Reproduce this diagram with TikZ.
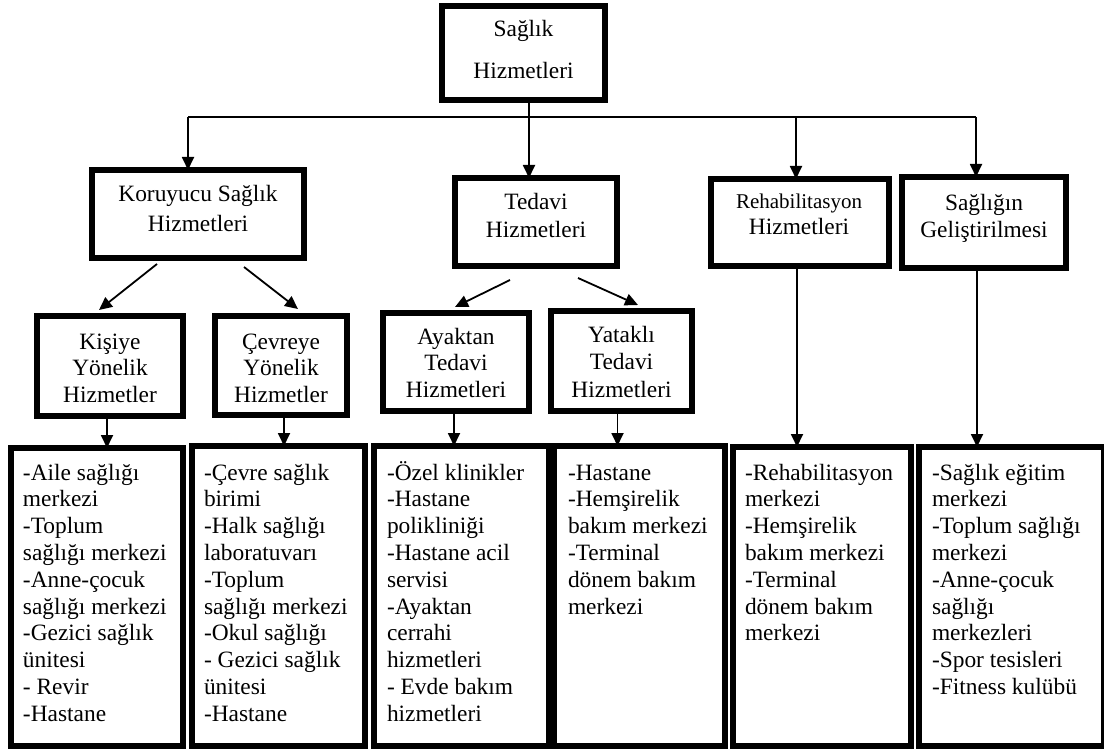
\documentclass[tikz,border=0pt]{standalone}
\usepackage{fontspec}
\setmainfont{Liberation Serif}
\usetikzlibrary{arrows.meta}
\newcommand\myst{\rule{0pt}{23.4pt}}
\begin{document}
\begin{tikzpicture}[x=1pt,y=-1pt,
  bx/.style={draw, rectangle, line width=6pt, inner sep=0pt, outer sep=0pt},
  tx/.style={inner sep=0pt, outer sep=0pt},
  ctx/.style={tx, align=center, anchor=north},
  ltx/.style={tx, align=left, anchor=north west, font=\fontsize{23.4}{26.8}\selectfont},
  ln/.style={line width=1.8pt},
  arr/.style={line width=1.8pt, -{Triangle[length=13pt,width=12pt]}}]
\useasboundingbox (0,0) rectangle (1104,749);
\fill[white] (0,0) rectangle (1104,749);

% level 1
\node[bx, minimum width=163pt, minimum height=94pt] (top) at (523.5,53) {};
\node[ctx, font=\fontsize{23.4}{42}\selectfont] (ttop) at (523.5,13.6) {\myst Sağlık\\Hizmetleri};

% level 2
\node[bx, minimum width=212pt, minimum height=88pt] (koru) at (198,214) {};
\node[ctx, font=\fontsize{23.4}{29}\selectfont] (tkoru) at (198,178.6) {\myst Koruyucu Sağlık\\Hizmetleri};
\node[bx, minimum width=162pt, minimum height=88pt] (ted) at (536,222) {};
\node[ctx, font=\fontsize{23.4}{28}\selectfont] (tted) at (536,185.6) {\myst Tedavi\\Hizmetleri};
\node[bx, minimum width=178pt, minimum height=87pt] (reh) at (800,222.5) {};
\node[ctx, font=\fontsize{23.4}{27}\selectfont] (treh) at (799,184.6) {\myst{\fontsize{21}{27}\selectfont Rehabilitasyon}\\Hizmetleri};
\node[bx, minimum width=164pt, minimum height=91pt] (sag) at (984,222.5) {};
\node[ctx, font=\fontsize{23.4}{27}\selectfont] (tsag) at (984,186.6) {\myst Sağlığın\\Geliştirilmesi};

% level 3
\node[bx, minimum width=146pt, minimum height=100pt] (kisi) at (110,366) {};
\node[ctx, font=\fontsize{23.4}{26.5}\selectfont] (tkisi) at (110,325.6) {\myst Kişiye\\Yönelik\\Hizmetler};
\node[bx, minimum width=132pt, minimum height=99pt] (cev) at (281,365.5) {};
\node[ctx, font=\fontsize{23.4}{26.5}\selectfont] (tcev) at (281,325.6) {\myst Çevreye\\Yönelik\\Hizmetler};
\node[bx, minimum width=146pt, minimum height=98pt] (ayak) at (456,362) {};
\node[ctx, font=\fontsize{23.4}{26.5}\selectfont] (tayak) at (456,320.6) {\myst Ayaktan\\Tedavi\\Hizmetleri};
\node[bx, minimum width=141pt, minimum height=100pt] (yat) at (621.5,361) {};
\node[ctx, font=\fontsize{23.4}{27.5}\selectfont] (tyat) at (621.5,318.6) {\myst Yataklı\\Tedavi\\Hizmetleri};

% level 4
\node[bx, minimum width=172pt, minimum height=298pt] (b1) at (97,597) {};
\node[bx, minimum width=173pt, minimum height=300pt] (b2) at (278.5,596) {};
\node[bx, minimum width=175pt, minimum height=300pt] (b3) at (461.5,596) {};
\node[bx, minimum width=171pt, minimum height=300pt] (b4) at (639.5,596) {};
\node[bx, minimum width=178pt, minimum height=299pt] (b5) at (822,596.5) {};
\node[bx, minimum width=185pt, minimum height=299pt] (b6) at (1011.5,596.5) {};

\node[ltx] (t1) at (23,456.6) {\myst -Aile sağlığı\\merkezi\\-Toplum\\sağlığı merkezi\\-Anne-çocuk\\sağlığı merkezi\\-Gezici sağlık\\ünitesi\\- Revir\\-Hastane};
\node[ltx] (t2) at (204,456.6) {\myst -Çevre sağlık\\birimi\\-Halk sağlığı\\laboratuvarı\\-Toplum\\sağlığı merkezi\\-Okul sağlığı\\- Gezici sağlık\\ünitesi\\-Hastane};
\node[ltx] (t3) at (387,456.6) {\myst -Özel klinikler\\-Hastane\\polikliniği\\-Hastane acil\\servisi\\-Ayaktan\\cerrahi\\hizmetleri\\- Evde bakım\\hizmetleri};
\node[ltx] (t4) at (568,456.6) {\myst -Hastane\\-Hemşirelik\\bakım merkezi\\-Terminal\\dönem bakım\\merkezi};
\node[ltx] (t5) at (745,456.6) {\myst -Rehabilitasyon\\merkezi\\-Hemşirelik\\bakım merkezi\\-Terminal\\dönem bakım\\merkezi};
\node[ltx] (t6) at (932,456.6) {\myst -Sağlık eğitim\\merkezi\\-Toplum sağlığı\\merkezi\\-Anne-çocuk\\sağlığı\\merkezleri\\-Spor tesisleri\\-Fitness kulübü};

% connectors level 1 -> 2
\coordinate (jT) at (529,117);
\coordinate (jK) at (188,117);
\coordinate (jR) at (796,117);
\coordinate (jS) at (976,117);
\draw[ln] (jK) -- (jS);
\draw[ln] (top.south -| jT) -- (jT);
\draw[arr] (jT) -- (ted.north -| jT);
\draw[arr] (jK) -- (koru.north -| jK);
\draw[arr] (jR) -- (reh.north -| jR);
\draw[arr] (jS) -- (sag.north -| jS);

% level 2 -> 3
\draw[arr] ([xshift=-41pt,yshift=-6pt]koru.south) -- ([xshift=-11pt,yshift=6pt]kisi.north);
\draw[arr] ([xshift=46pt,yshift=-9pt]koru.south) -- ([xshift=17pt,yshift=7pt]cev.north);
\draw[arr] ([xshift=-26pt,yshift=-14pt]ted.south) -- ([xshift=-1pt,yshift=6pt]ayak.north);
\draw[arr] ([xshift=42pt,yshift=-12pt]ted.south) -- ([xshift=16.5pt,yshift=6pt]yat.north);

% level 3 -> 4
\draw[arr] ([xshift=-3pt]kisi.south) -- ([xshift=-3pt]kisi.south |- b1.north);
\draw[arr] ([xshift=3pt]cev.south) -- ([xshift=3pt]cev.south |- b2.north);
\draw[arr] ([xshift=-2pt]ayak.south) -- ([xshift=-2pt]ayak.south |- b3.north);
\draw[arr] ([xshift=-4pt]yat.south) -- ([xshift=-4pt]yat.south |- b4.north);
\draw[arr] ([xshift=-3pt]reh.south) -- ([xshift=-3pt]reh.south |- b5.north);
\draw[arr] ([xshift=-7pt]sag.south) -- ([xshift=-7pt]sag.south |- b6.north);
\end{tikzpicture}
\end{document}
